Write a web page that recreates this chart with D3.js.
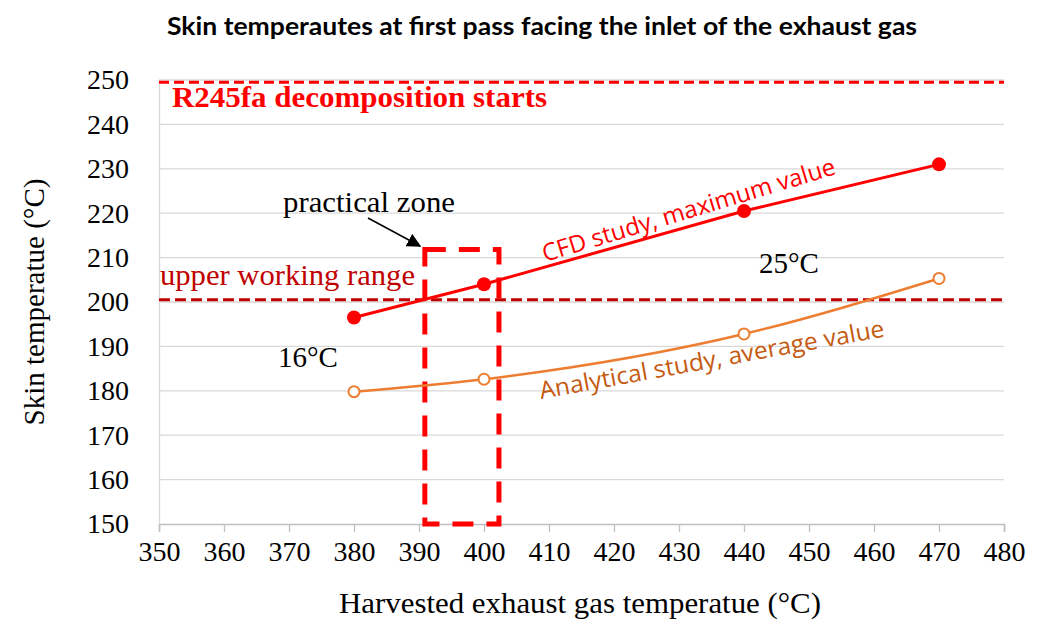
<!DOCTYPE html>
<html><head><meta charset="utf-8">
<script src="https://cdn.jsdelivr.net/npm/d3@7"></script>
<style>body{margin:0;background:#fff}svg{display:block}</style>
</head><body>
<svg id="c" width="1044" height="627"></svg>
<script>
const xs = [380, 400, 440, 470];
const cfd = [196.5, 204, 220.5, 231];
const analytical = [179.8, 182.6, 192.8, 205.3];
const xTicks = [350,360,370,380,390,400,410,420,430,440,450,460,470,480];
const yTicks = [150,160,170,180,190,200,210,220,230,240,250];
const decompLevel = 249.5;
const upperLevel = 200.5;
const zoneX = [390.9, 402.3];
const zoneY = [150, 211.8];

const svg = d3.select('#c');
const x = d3.scaleLinear().domain([350,480]).range([159,1004]);
const y = d3.scaleLinear().domain([150,250]).range([524,80]);
const serif = "'Liberation Serif','Times New Roman',serif";
const sans = "'Open Sans', 'Noto Sans', sans-serif";

// gridlines
svg.append('g').selectAll('line').data(yTicks.slice(1)).join('line')
  .attr('x1', x(350)).attr('x2', x(480)).attr('y1', d=>y(d)).attr('y2', d=>y(d))
  .attr('stroke', '#d9d9d9').attr('stroke-width', 1.3);

// x axis
const xa = svg.append('g').attr('transform', `translate(0,${y(150)})`)
  .call(d3.axisBottom(x).tickValues(xTicks).tickSize(8).tickPadding(9).tickFormat(d3.format('d')));
xa.select('.domain').attr('stroke', '#bfbfbf').attr('stroke-width', 1.5);
xa.selectAll('.tick line').attr('stroke', '#bfbfbf').attr('stroke-width', 1.3);
xa.selectAll('text').attr('font-family', serif).attr('font-size', 28).attr('fill', '#000');

// y axis
const ya = svg.append('g').attr('transform', `translate(${x(350)},0)`)
  .call(d3.axisLeft(y).tickValues(yTicks).tickSize(0).tickPadding(30).tickFormat(d3.format('d')));
ya.select('.domain').attr('stroke', '#d9d9d9').attr('stroke-width', 1.3);
ya.selectAll('text').attr('font-family', serif).attr('font-size', 28).attr('fill', '#000');

// title
svg.append('text').attr('x', 542).attr('y', 35).attr('text-anchor', 'middle')
  .attr('font-family', "Lato, 'Open Sans', sans-serif").attr('font-weight', 'bold').attr('font-size', 25)
  .attr('textLength', 750).attr('lengthAdjust', 'spacingAndGlyphs')
  .text('Skin temperautes at first pass facing the inlet of the exhaust gas');

// axis titles
svg.append('text').attr('x', 580).attr('y', 613).attr('text-anchor', 'middle')
  .attr('font-family', serif).attr('font-size', 30).attr('textLength', 482).attr('lengthAdjust', 'spacingAndGlyphs')
  .text('Harvested exhaust gas temperatue (°C)');
svg.append('text').attr('transform', `translate(44,${y(200)}) rotate(-90)`).attr('text-anchor', 'middle')
  .attr('font-family', serif).attr('font-size', 29).text('Skin temperatue (°C)');

// reference lines
svg.append('line').attr('x1', x(350)).attr('x2', x(480)).attr('y1', y(decompLevel)).attr('y2', y(decompLevel))
  .attr('stroke', '#ff0000').attr('stroke-width', 3).attr('stroke-dasharray', '10,5');
svg.append('line').attr('x1', x(350)).attr('x2', x(480)).attr('y1', y(upperLevel)).attr('y2', y(upperLevel))
  .attr('stroke', '#c00000').attr('stroke-width', 3).attr('stroke-dasharray', '11,5');

// practical zone
svg.append('rect').attr('x', x(zoneX[0])).attr('y', y(zoneY[1]))
  .attr('width', x(zoneX[1]) - x(zoneX[0])).attr('height', y(zoneY[0]) - y(zoneY[1]))
  .attr('fill', 'none').attr('stroke', '#ff0000').attr('stroke-width', 5).attr('stroke-dasharray', '21,13');

// analytical line (smooth)
const aData = xs.map((v,i)=>[v, analytical[i]]);
svg.append('path').datum(aData)
  .attr('d', d3.line().x(d=>x(d[0])).y(d=>y(d[1])).curve(d3.curveMonotoneX)).attr('fill','none')
  .attr('stroke', '#ed7d31').attr('stroke-width', 2.5);
svg.append('g').selectAll('circle').data(aData).join('circle')
  .attr('cx', d=>x(d[0])).attr('cy', d=>y(d[1])).attr('r', 5.5)
  .attr('fill', '#fff').attr('stroke', '#ed7d31').attr('stroke-width', 2);

// CFD line
const cData = xs.map((v,i)=>[v, cfd[i]]);
svg.append('path').datum(cData).attr('d', d3.line().x(d=>x(d[0])).y(d=>y(d[1]))).attr('fill','none')
  .attr('stroke', '#ff0000').attr('stroke-width', 3);
svg.append('g').selectAll('circle').data(cData).join('circle')
  .attr('cx', d=>x(d[0])).attr('cy', d=>y(d[1])).attr('r', 7).attr('fill', '#ff0000');

// labels
svg.append('text').attr('x', 172).attr('y', 107).attr('font-family', serif).attr('font-weight','bold')
  .attr('font-size', 30).attr('fill', '#ff0000').attr('textLength', 375).attr('lengthAdjust', 'spacingAndGlyphs')
  .text('R245fa decomposition starts');
svg.append('text').attr('x', 160).attr('y', 285).attr('font-family', serif)
  .attr('font-size', 29).attr('fill', '#c00000').attr('textLength', 255).attr('lengthAdjust', 'spacingAndGlyphs')
  .text('upper working range');
svg.append('text').attr('x', 283).attr('y', 212).attr('font-family', serif)
  .attr('font-size', 29).attr('fill', '#000').attr('textLength', 172).attr('lengthAdjust', 'spacingAndGlyphs')
  .text('practical zone');
svg.append('text').attr('x', 278).attr('y', 367).attr('font-family', serif)
  .attr('font-size', 29).attr('fill', '#000').text('16°C');
svg.append('text').attr('x', 759).attr('y', 273).attr('font-family', serif)
  .attr('font-size', 29).attr('fill', '#000').text('25°C');

// arrow
svg.append('defs').append('marker').attr('id','ah').attr('viewBox','0 0 10 10').attr('refX',9).attr('refY',5)
  .attr('markerWidth',14).attr('markerHeight',14).attr('markerUnits','userSpaceOnUse').attr('orient','auto')
  .append('path').attr('d','M0,0L10,5L0,10Z').attr('fill','#000');
svg.append('line').attr('x1', 368).attr('y1', 218).attr('x2', 420).attr('y2', 246)
  .attr('stroke', '#000').attr('stroke-width', 1.5).attr('marker-end', 'url(#ah)');

// rotated series labels
svg.append('text').attr('transform', 'translate(545,262) rotate(-16.8)')
  .attr('font-family', sans).attr('font-size', 24).attr('fill', '#ff0000')
  .attr('textLength', 305).attr('lengthAdjust', 'spacingAndGlyphs')
  .text('CFD study, maximum value');
svg.append('text').attr('transform', 'translate(541,399) rotate(-10.3)')
  .attr('font-family', sans).attr('font-size', 24).attr('fill', '#c55a11')
  .attr('textLength', 350).attr('lengthAdjust', 'spacingAndGlyphs')
  .text('Analytical study, average value');
</script>
</body></html>
